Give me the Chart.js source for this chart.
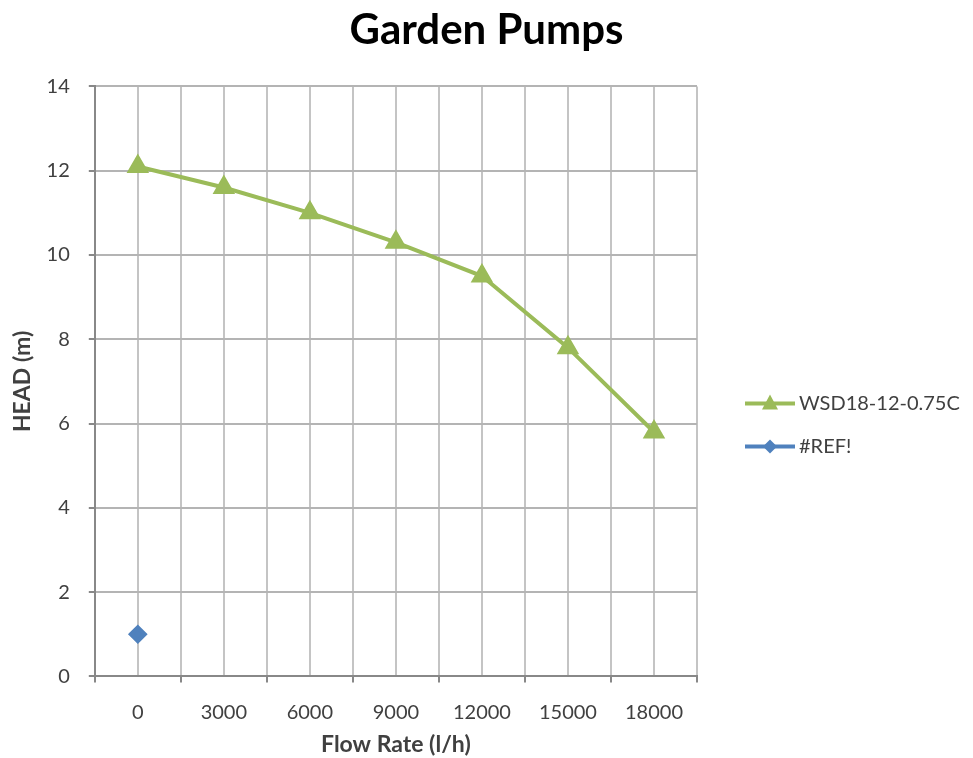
<!DOCTYPE html>
<html>
<head>
<meta charset="utf-8">
<script src="https://cdn.jsdelivr.net/npm/chart.js@4"></script>
<style>
  html, body { margin: 0; padding: 0; background: #fff; }
  #wrap { width: 973px; height: 758px; }
</style>
</head>
<body>
<div id="wrap"><canvas id="pumpChart"></canvas></div>
<script>
// flow rate categories (l/h)
const flowRates = [0, 3000, 6000, 9000, 12000, 15000, 18000];
// head (m) for WSD18-12-0.75C
const headWSD = [12.1, 11.6, 11.0, 10.3, 9.5, 7.8, 5.8];
// the broken #REF! series, one point only
const refFlow = [0];
const refHead = [1.0];
const yTicks = [0, 2, 4, 6, 8, 10, 12, 14];

const GREEN = '#9bbb59';
const BLUE = '#4f81bd';

// excel style legend on the right: line with the marker in the middle, then the label
const sideLegend = {
    id: 'sideLegend',
    afterDraw(chart) {
        const g = chart.ctx;
        const area = chart.chartArea;
        const x0 = area.right + 48;
        const yStart = (area.top + area.bottom) / 2 + 22;
        g.save();
        g.font = '20px Lato';
        g.textBaseline = 'middle';
        chart.data.datasets.forEach((ds, i) => {
            const y = yStart + i * 43;
            g.strokeStyle = ds.borderColor;
            g.lineWidth = 4;
            g.beginPath(); g.moveTo(x0, y); g.lineTo(x0 + 50, y); g.stroke();
            g.fillStyle = ds.borderColor;
            g.beginPath();
            const m = x0 + 25;
            if (ds.pointStyle === 'triangle') {
                g.moveTo(m, y - 9); g.lineTo(m + 8, y + 6); g.lineTo(m - 8, y + 6);
            } else {
                g.moveTo(m, y - 7); g.lineTo(m + 7, y); g.lineTo(m, y + 7); g.lineTo(m - 7, y);
            }
            g.closePath(); g.fill();
            g.fillStyle = '#404040';
            g.fillText(ds.label, x0 + 54, y);
        });
        g.restore();
    }
};

const ctx = document.getElementById('pumpChart').getContext('2d');
new Chart(ctx, {
    type: 'line',
    data: {
        datasets: [{
            label: 'WSD18-12-0.75C',
            data: flowRates.map((f, i) => ({ x: f, y: headWSD[i] })),
            borderColor: GREEN,
            backgroundColor: GREEN,
            borderWidth: 4,
            pointStyle: 'triangle',
            pointRadius: 9,
            pointHoverRadius: 9,
            fill: false
        }, {
            label: '#REF!',
            data: refFlow.map((f, i) => ({ x: f, y: refHead[i] })),
            borderColor: BLUE,
            backgroundColor: BLUE,
            borderWidth: 4,
            pointStyle: 'rectRot',
            pointRadius: 7,
            pointHoverRadius: 7,
            fill: false
        }]
    },
    plugins: [sideLegend],
    options: {
        responsive: true,
        maintainAspectRatio: false,
        animation: false,
        layout: { padding: { top: 2, right: 0, left: 0, bottom: 0 } },
        plugins: {
            title: {
                display: true,
                text: 'Garden Pumps',
                color: '#000',
                font: { family: 'Lato', size: 42, weight: 'bold' },
                padding: { top: 3, bottom: 31 }
            },
            legend: { display: false },
            tooltip: { enabled: false }
        },
        scales: {
            x: {
                type: 'linear',
                min: -1500,
                max: 19500,
                title: {
                    display: true,
                    text: 'Flow Rate (l/h)',
                    color: '#404040',
                    font: { family: 'Lato', size: 23, weight: 'bold' },
                    padding: { top: -12, bottom: 0 }
                },
                ticks: {
                    stepSize: 1500,
                    autoSkip: false,
                    maxRotation: 0,
                    color: '#404040',
                    font: { family: 'Lato', size: 20 },
                    padding: 18,
                    callback: v => flowRates.includes(v) ? String(v) : ''
                },
                grid: {
                    color: '#c4c4c4',
                    lineWidth: 2,
                    tickLength: 6,
                    tickColor: c => (c.tick && flowRates.includes(c.tick.value)) ? 'rgba(0,0,0,0)' : '#888'
                },
                border: { color: '#888', width: 2 }
            },
            y: {
                min: 0,
                max: 14,
                afterBuildTicks: axis => { axis.ticks = yTicks.map(v => ({ value: v })); },
                title: {
                    display: true,
                    text: 'HEAD (m)',
                    color: '#404040',
                    font: { family: 'Lato', size: 23, weight: 'bold' },
                    padding: { top: 9, bottom: -9 }
                },
                ticks: {
                    color: '#404040',
                    font: { family: 'Lato', size: 20 },
                    padding: 19
                },
                grid: {
                    color: '#b4b4b4',
                    lineWidth: 2,
                    tickLength: 6,
                    tickColor: '#888'
                },
                border: { color: '#888', width: 2 }
            },
            // empty right-hand box that keeps room for the legend
            legendSpace: {
                type: 'linear',
                position: 'right',
                min: 0,
                max: 1,
                ticks: { display: false },
                grid: { display: false, drawOnChartArea: false },
                border: { display: false },
                afterFit: s => { s.width = 276; }
            }
        }
    }
});
</script>
</body>
</html>
